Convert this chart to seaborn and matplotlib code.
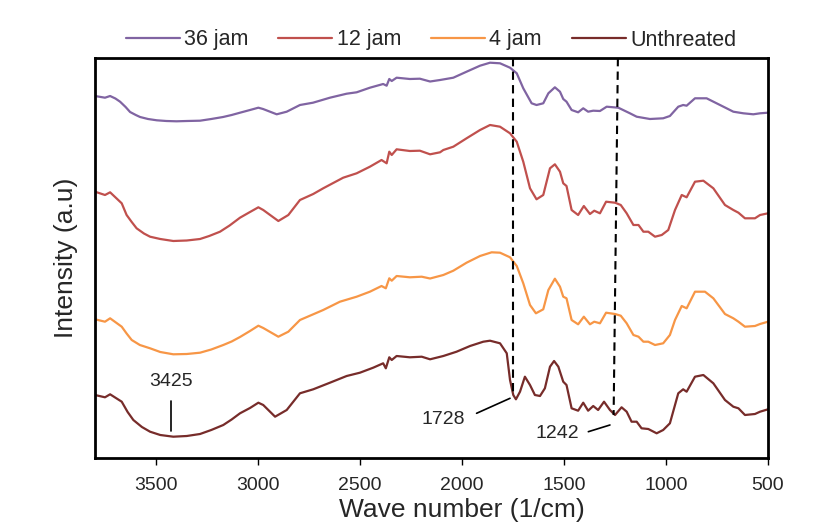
import numpy as np
import pandas as pd
import matplotlib
matplotlib.use("Agg")
import matplotlib.pyplot as plt
import seaborn as sns

# FTIR spectra, values (arbitrary offsets per sample)
wn_36 = [3800, 3751, 3726, 3700, 3677, 3650, 3628, 3600, 3579, 3540, 3497, 3450, 3400, 3350,
         3285, 3230, 3172, 3130, 3089, 3040, 2999, 2976, 2909,
         2860, 2795, 2731, 2648, 2566, 2517, 2452, 2387, 2370, 2357, 2345, 2321, 2256, 2207,
         2157, 2108, 2043, 1978, 1912, 1863, 1814, 1765, 1732, 1700, 1659, 1635, 1602, 1577,
         1545, 1520, 1504, 1488, 1463, 1431, 1406, 1382, 1357, 1324, 1291, 1234, 1177, 1144,
         1079, 1014, 981, 940, 916, 899, 858, 801, 752, 703, 670, 621, 572, 539, 500]
int_36 = [362, 360.3, 362, 359.5, 356.3, 351, 346, 343, 341, 339, 337.7, 337, 336.7, 337,
          337.3, 339, 341, 343, 345.3, 348, 350.3, 349, 343.7,
          346.3, 353, 355.3, 360.3, 364.3, 365.7, 370.3, 374, 372.3, 379, 377, 380.3, 379, 379.3,
          376.5, 378, 380.3, 386.3, 392.3, 395.3, 394.7, 390.3, 384.7, 369.7, 354.7, 353, 354.7, 364.7,
          370.7, 366.3, 359, 356.3, 348, 345.7, 349.7, 346.3, 347.3, 347, 351.3, 350.3, 344.7, 341.3,
          339, 339.7, 342, 351.3, 353, 352.3, 359.7, 359.7, 354.7, 349.7, 346.3, 344.7, 343.7, 344.7, 345.3]

wn_12 = [3800, 3751, 3726, 3669, 3645, 3620, 3596, 3560, 3530, 3480, 3416, 3350, 3285, 3240,
         3187, 3140, 3089, 3040, 2999, 2975, 2901,
         2852, 2795, 2730, 2681, 2583, 2517, 2452, 2395, 2370, 2357, 2345, 2321, 2256, 2207,
         2157, 2108, 2092, 2043, 1978, 1912, 1863, 1814, 1765, 1732, 1700, 1667, 1635, 1602,
         1569, 1545, 1520, 1504, 1488, 1463, 1431, 1403, 1373, 1352, 1324, 1294, 1250, 1222,
         1193, 1160, 1135, 1111, 1087, 1054, 1021, 989, 956, 923, 899, 858, 817, 768, 711,
         670, 645, 613, 564, 539, 500]
int_12 = [266.3, 263, 265.7, 254.7, 243, 236, 229.7, 224.5, 221.3, 219, 217, 217.5, 219, 222,
          226.3, 232.5, 240.3, 246, 250.7, 248, 237,
          243, 258, 264, 269.7, 280.3, 284.7, 291.3, 298, 294.7, 306.3, 303, 308.7, 307, 307.3,
          303.7, 305.7, 308, 311.3, 319.7, 328, 333, 331.3, 324.7, 316.3, 296.3, 269.7, 258.7, 263,
          289.7, 293.7, 286.3, 274.7, 272, 248, 243, 252, 244, 247.3, 244.7, 256.3, 255.3, 253,
          244.7, 233, 233, 226.3, 226.3, 221.3, 223, 228, 248, 263, 260.7, 276.3, 277.3, 269.7, 253,
          248, 245.3, 239.7, 239.7, 243, 244.7]

wn_4 = [3800, 3751, 3726, 3669, 3645, 3620, 3580, 3530, 3480, 3416, 3350, 3285, 3230, 3171,
        3130, 3089, 3040, 2999, 2975, 2901, 2852,
        2795, 2730, 2681, 2599, 2517, 2452, 2395, 2374, 2357, 2345, 2321, 2256, 2198, 2157,
        2092, 2043, 1978, 1912, 1855, 1814, 1765, 1732, 1700, 1667, 1638, 1602, 1577, 1545,
        1520, 1504, 1488, 1463, 1431, 1403, 1373, 1352, 1324, 1294, 1250, 1222, 1193, 1160,
        1135, 1111, 1087, 1054, 1014, 981, 956, 923, 899, 858, 809, 768, 711, 670, 645, 613,
        564, 539, 500]
int_4 = [138.7, 136.3, 139.7, 131.3, 124.5, 118, 113, 109.7, 106, 103.7, 104, 105.3, 108.5, 113,
         116.5, 121, 127, 132.3, 130, 121.3, 126.3,
         138, 143.7, 148, 156.3, 161.3, 166.3, 172, 169.7, 179.7, 177.3, 182, 180.7, 181.3, 179.5,
         183, 187.3, 195.3, 202, 205.7, 205.3, 200.7, 192, 174.7, 153, 144.7, 148.7, 168, 179.3,
         171.3, 161.3, 159.7, 138, 133.7, 141.3, 133.7, 136.3, 134.7, 145.3, 144, 142.3, 134.7, 123,
         121.3, 116.3, 116.3, 113, 114.7, 123, 138, 152, 149.7, 166.3, 166.3, 159.7, 144, 139.7, 136.3, 131.3,
         132, 134, 136.3]

wn_un = [3800, 3751, 3726, 3669, 3640, 3612, 3570, 3530, 3480, 3416, 3350, 3285, 3230, 3171,
         3130, 3089, 3040, 2999, 2975, 2917, 2860,
         2795, 2730, 2648, 2566, 2501, 2436, 2387, 2374, 2357, 2345, 2321, 2256, 2198, 2157,
         2092, 2027, 1961, 1896, 1863, 1814, 1781, 1765, 1749, 1736, 1716, 1692, 1667, 1643,
         1618, 1594, 1569, 1549, 1528, 1504, 1488, 1463, 1431, 1406, 1382, 1357, 1333, 1304,
         1275, 1250, 1218, 1193, 1169, 1144, 1120, 1087, 1046, 1014, 981, 940, 916, 899, 858,
         817, 768, 711, 670, 645, 613, 564, 539, 500]
int_un = [63, 60.7, 63.7, 56.3, 46, 38, 31, 26.3, 23, 21.3, 22, 24, 28, 33,
          38.5, 44.7, 50, 55.3, 53, 41.3, 48,
          64.7, 68.7, 75.3, 82, 85.3, 90.3, 94.7, 89.7, 100.7, 98, 102, 100.7, 101.3, 98.7,
          102, 106.3, 112, 116.3, 117.3, 114.7, 104.7, 78, 63, 58.7, 66.3, 81.3, 73, 63,
          62, 69.7, 91.3, 97, 91.3, 76.3, 73, 49.7, 47.3, 55.3, 47.3, 52, 48, 56.3,
          48, 43, 50.7, 46.3, 36.3, 36.3, 29.7, 29, 24.7, 28, 34.7, 64.7, 68.7, 66.3, 81.3,
          83, 74.7, 58, 51.3, 49.7, 43, 44, 46.3, 48.7]

series = ["36 jam", "12 jam", "4 jam", "Unthreated"]
colors = ["#8064A2", "#C0504D", "#F79646", "#772C2A"]

# marked peaks
peak_labels = ["3425", "1728", "1242"]
dash_top = 400

frames = []
for name, wn, val in zip(series, [wn_36, wn_12, wn_4, wn_un], [int_36, int_12, int_4, int_un]):
    frames.append(pd.DataFrame({"wn": wn, "intensity": val, "sample": name}))
df = pd.concat(frames, ignore_index=True)

sns.set_theme(style="white")
plt.rcParams["font.family"] = ["Liberation Sans", "DejaVu Sans"]

fig = plt.figure(figsize=(8.29, 5.32), dpi=100)
ax = fig.add_axes([95 / 829, 74 / 532, 673 / 829, 400 / 532])

sns.lineplot(data=df, x="wn", y="intensity", hue="sample", hue_order=series,
             palette=colors, sort=False, estimator=None, linewidth=1.6, ax=ax, legend=False)
for ln in ax.lines:
    ln.set_solid_joinstyle("round")

# dashed guide lines
ax.plot([1750, 1750], [dash_top, 62], color="black", linestyle=(0, (4, 2.5)), linewidth=1.5)
ax.plot([1236, 1257], [dash_top, 43], color="black", linestyle=(0, (4, 2.5)), linewidth=1.5)

# peak annotations
ax.plot([3425, 3425], [57, 27], color="black", linewidth=1.2)
ax.text(3425, 76, peak_labels[0], ha="center", va="center", fontsize=14)
ax.plot([1929, 1765], [44.7, 59.7], color="black", linewidth=1.2)
ax.text(2092, 38, peak_labels[1], ha="center", va="center", fontsize=14)
ax.plot([1381, 1275], [26.3, 33], color="black", linewidth=1.2)
ax.text(1532, 25, peak_labels[2], ha="center", va="center", fontsize=14)

ax.set_xlim(3800, 500)
ax.set_ylim(0, 400)
ax.set_xticks([3500, 3000, 2500, 2000, 1500, 1000, 500])
ax.set_yticks([])
ax.tick_params(axis="x", direction="out", length=5, width=1, bottom=True,
               labelsize=14, pad=9, color="black")
ax.set_xlabel("Wave number (1/cm)", fontsize=19)
ax.xaxis.set_label_coords(0.545, -0.10)
ax.set_ylabel("Intensity (a.u)", fontsize=19, labelpad=12)
for s in ax.spines.values():
    s.set_color("black")
    s.set_linewidth(2)

handles = [plt.Line2D([], [], color=c, linewidth=1.6) for c in colors]
fig.legend(handles, series, loc="center", bbox_to_anchor=(431 / 829, 1 - 40 / 532),
           ncol=4, frameon=False, fontsize=15.5, handlelength=2.5, handletextpad=0.2,
           columnspacing=1.4)

fig.savefig("out.png", dpi=100)
